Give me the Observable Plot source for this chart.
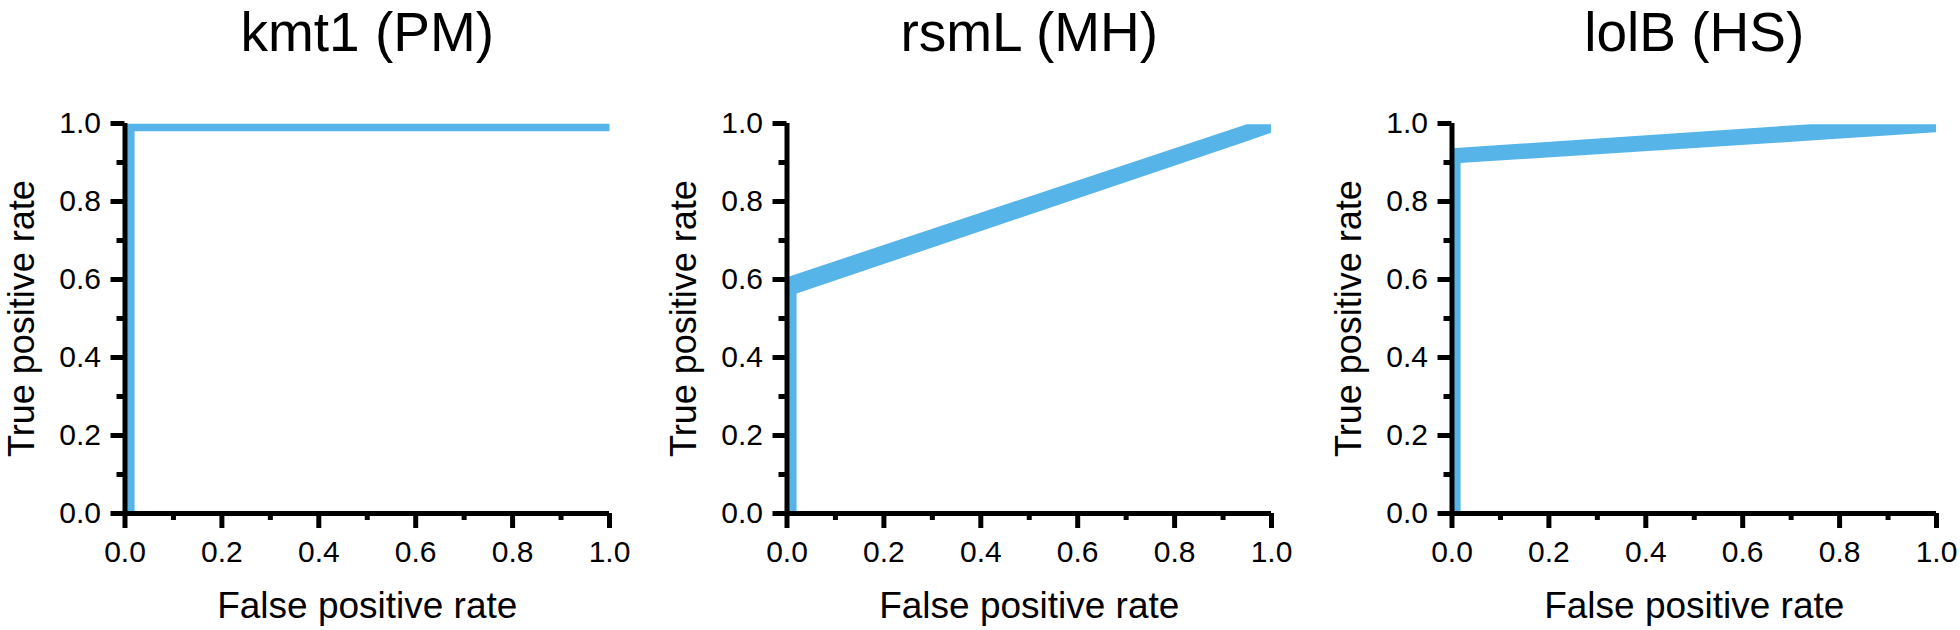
<!DOCTYPE html>
<html>
<head>
<meta charset="utf-8">
<script src="https://cdn.jsdelivr.net/npm/d3@7"></script>
<script src="https://cdn.jsdelivr.net/npm/@observablehq/plot@0.6"></script>
<style>
  html, body { margin: 0; padding: 0; background: #fff; overflow: hidden; width: 1960px; height: 630px; }
  #wrap { position: relative; width: 1960px; height: 630px; overflow: hidden; }
  .panel { position: absolute; top: 0; width: 640px; height: 630px; }
  .panel svg { max-width: none !important; width: 640px; height: 630px; }
  .panel g[aria-label$="axis tick"], .panel g[aria-label$="axis tick"] * { stroke-width: 5px !important; stroke: #000 !important; }
  .panel g[aria-label="rule"], .panel g[aria-label="rule"] * { stroke-width: 5px !important; stroke: #000 !important; }
</style>
</head>
<body>
<div id="wrap"></div>
<script>
// ---- data ----
const panelTitles = ["kmt1 (PM)", "rsmL (MH)", "lolB (HS)"];
const xLabel = "False positive rate";
const yLabel = "True positive rate";
const majorTicks = [0, 0.2, 0.4, 0.6, 0.8, 1.0];
const minorTicks = [0.1, 0.3, 0.5, 0.7, 0.9];

// ROC step segments (false positive rate, true positive rate)
const stepFpr = [[0.012, 0.012, 1.0], [0.012, 0.012], [0.01, 0.01]];
const stepTpr = [[0, 0.99, 0.99], [0, 0.58], [0, 0.92]];

// sloped ROC portions, drawn as bands (lower / upper edge)
const bandFpr  = [[], [0.004, 0.95, 1.0], [0.0014, 0.741, 1.0]];
const bandLow  = [[], [0.556, 0.953, 0.975], [0.896, 0.955, 0.976]];
const bandHigh = [[], [0.606, 0.997, 0.997], [0.935, 0.997, 0.997]];

// ---- drawing ----
const blue = "#56B4E9";
const lefts = [0, 662, 1327];
const fmt = d3.format(".1f");
const wrap = document.getElementById("wrap");

panelTitles.forEach((title, i) => {
  const step = stepFpr[i].map((x, j) => ({x, y: stepTpr[i][j]}));
  const band = bandFpr[i].map((x, j) => ({x, lo: bandLow[i][j], hi: bandHigh[i][j]}));
  const chart = Plot.plot({
    width: 640,
    height: 630,
    marginTop: 123,
    marginBottom: 117,
    marginLeft: 124.5,
    marginRight: 31,
    style: {fontFamily: "'Liberation Sans', Arial, Helvetica, sans-serif", color: "black", background: "transparent", overflow: "visible"},
    x: {domain: [0, 1], axis: null},
    y: {domain: [0, 1], axis: null},
    marks: [
      Plot.areaY(band, {x: "x", y1: "lo", y2: "hi", fill: blue, curve: "linear"}),
      Plot.line(step, {x: "x", y: "y", stroke: blue, strokeWidth: 7.5, strokeLinejoin: "miter", strokeLinecap: "butt", strokeMiterlimit: 10}),
      Plot.ruleX([0], {stroke: "black", strokeWidth: 5}),
      Plot.ruleY([0], {stroke: "black", strokeWidth: 5}),
      Plot.axisY({ticks: majorTicks, tickSize: 14, tickPadding: 10, strokeWidth: 5, fontSize: 30, tickFormat: fmt, label: null}),
      Plot.axisY({ticks: minorTicks, tickSize: 8, strokeWidth: 5, tickFormat: () => "", label: null}),
      Plot.axisX({ticks: majorTicks, tickSize: 15, tickPadding: 12, strokeWidth: 5, fontSize: 30, tickFormat: fmt, label: null}),
      Plot.axisX({ticks: minorTicks, tickSize: 7, strokeWidth: 5, tickFormat: () => "", label: null}),
      Plot.text([title], {text: d => d, frameAnchor: "top", dy: -73, lineAnchor: "bottom", fontSize: 55, fill: "black"}),
      Plot.text([xLabel], {text: d => d, frameAnchor: "bottom", dy: 104, lineAnchor: "bottom", fontSize: 37, fill: "black"}),
      Plot.text([yLabel], {text: d => d, frameAnchor: "left", dx: -103, rotate: -90, lineAnchor: "middle", textAnchor: "middle", fontSize: 36, fill: "black"})
    ]
  });
  const div = document.createElement("div");
  div.className = "panel";
  div.style.left = lefts[i] + "px";
  div.appendChild(chart);
  wrap.appendChild(div);
});
</script>
</body>
</html>
